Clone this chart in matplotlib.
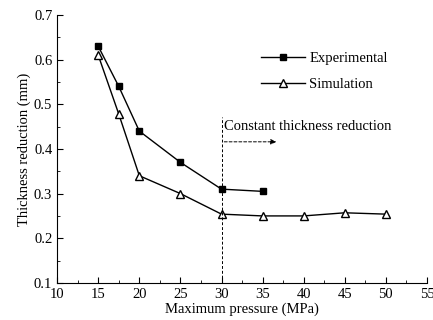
import matplotlib.pyplot as plt
from matplotlib.ticker import MultipleLocator

plt.rcParams['font.family'] = ['Liberation Serif', 'DejaVu Serif']

# Experimental vs simulated thickness reduction
pressure_exp = [15, 17.5, 20, 25, 30, 35]
reduction_exp = [0.63, 0.54, 0.44, 0.37, 0.31, 0.305]
pressure_sim = [15, 17.5, 20, 25, 30, 35, 40, 45, 50]
reduction_sim = [0.61, 0.478, 0.34, 0.30, 0.254, 0.25, 0.25, 0.257, 0.254]

fs = 10.5

fig = plt.figure(figsize=(4.33, 3.2), dpi=100)
ax = fig.add_axes([0.132, 0.116, 0.854, 0.837])

ax.plot(pressure_exp, reduction_exp, color='black', lw=1.0, marker='s',
        ms=5, mfc='black', mec='black', label='Experimental')
ax.plot(pressure_sim, reduction_sim, color='black', lw=1.0, marker='^',
        ms=6, mfc='white', mec='black', mew=1.0, label='Simulation')

# boundary of the constant-reduction region
ax.plot([30, 30], [0.1, 0.472], color='black', lw=0.7, ls=(0, (3, 2)))
ax.annotate('', xy=(37, 0.416), xytext=(30, 0.416),
            arrowprops=dict(arrowstyle='-|>', color='black', lw=0.7,
                            ls=(0, (3, 2)), mutation_scale=8))
ax.text(30.3, 0.45, 'Constant thickness reduction', fontsize=fs, va='center')

ax.set_xlim(10, 55)
ax.set_ylim(0.1, 0.7)
ax.xaxis.set_major_locator(MultipleLocator(5))
ax.xaxis.set_minor_locator(MultipleLocator(2.5))
ax.yaxis.set_major_locator(MultipleLocator(0.1))
ax.yaxis.set_minor_locator(MultipleLocator(0.05))
ax.tick_params(which='both', direction='in', labelsize=fs)
ax.tick_params(which='major', length=4)
ax.tick_params(which='minor', length=2.5)
ax.spines['top'].set_visible(False)
ax.spines['right'].set_visible(False)

ax.set_xlabel('Maximum pressure (MPa)', fontsize=fs, labelpad=1)
ax.set_ylabel('Thickness reduction (mm)', fontsize=fs, labelpad=2)

ax.legend(loc='upper left', bbox_to_anchor=(254 / 433, 0.86),
          bbox_transform=fig.transFigure, frameon=False, borderpad=0,
          fontsize=fs, handlelength=3.0, labelspacing=0.85, handletextpad=0.3)

fig.savefig('out.png', dpi=100)
